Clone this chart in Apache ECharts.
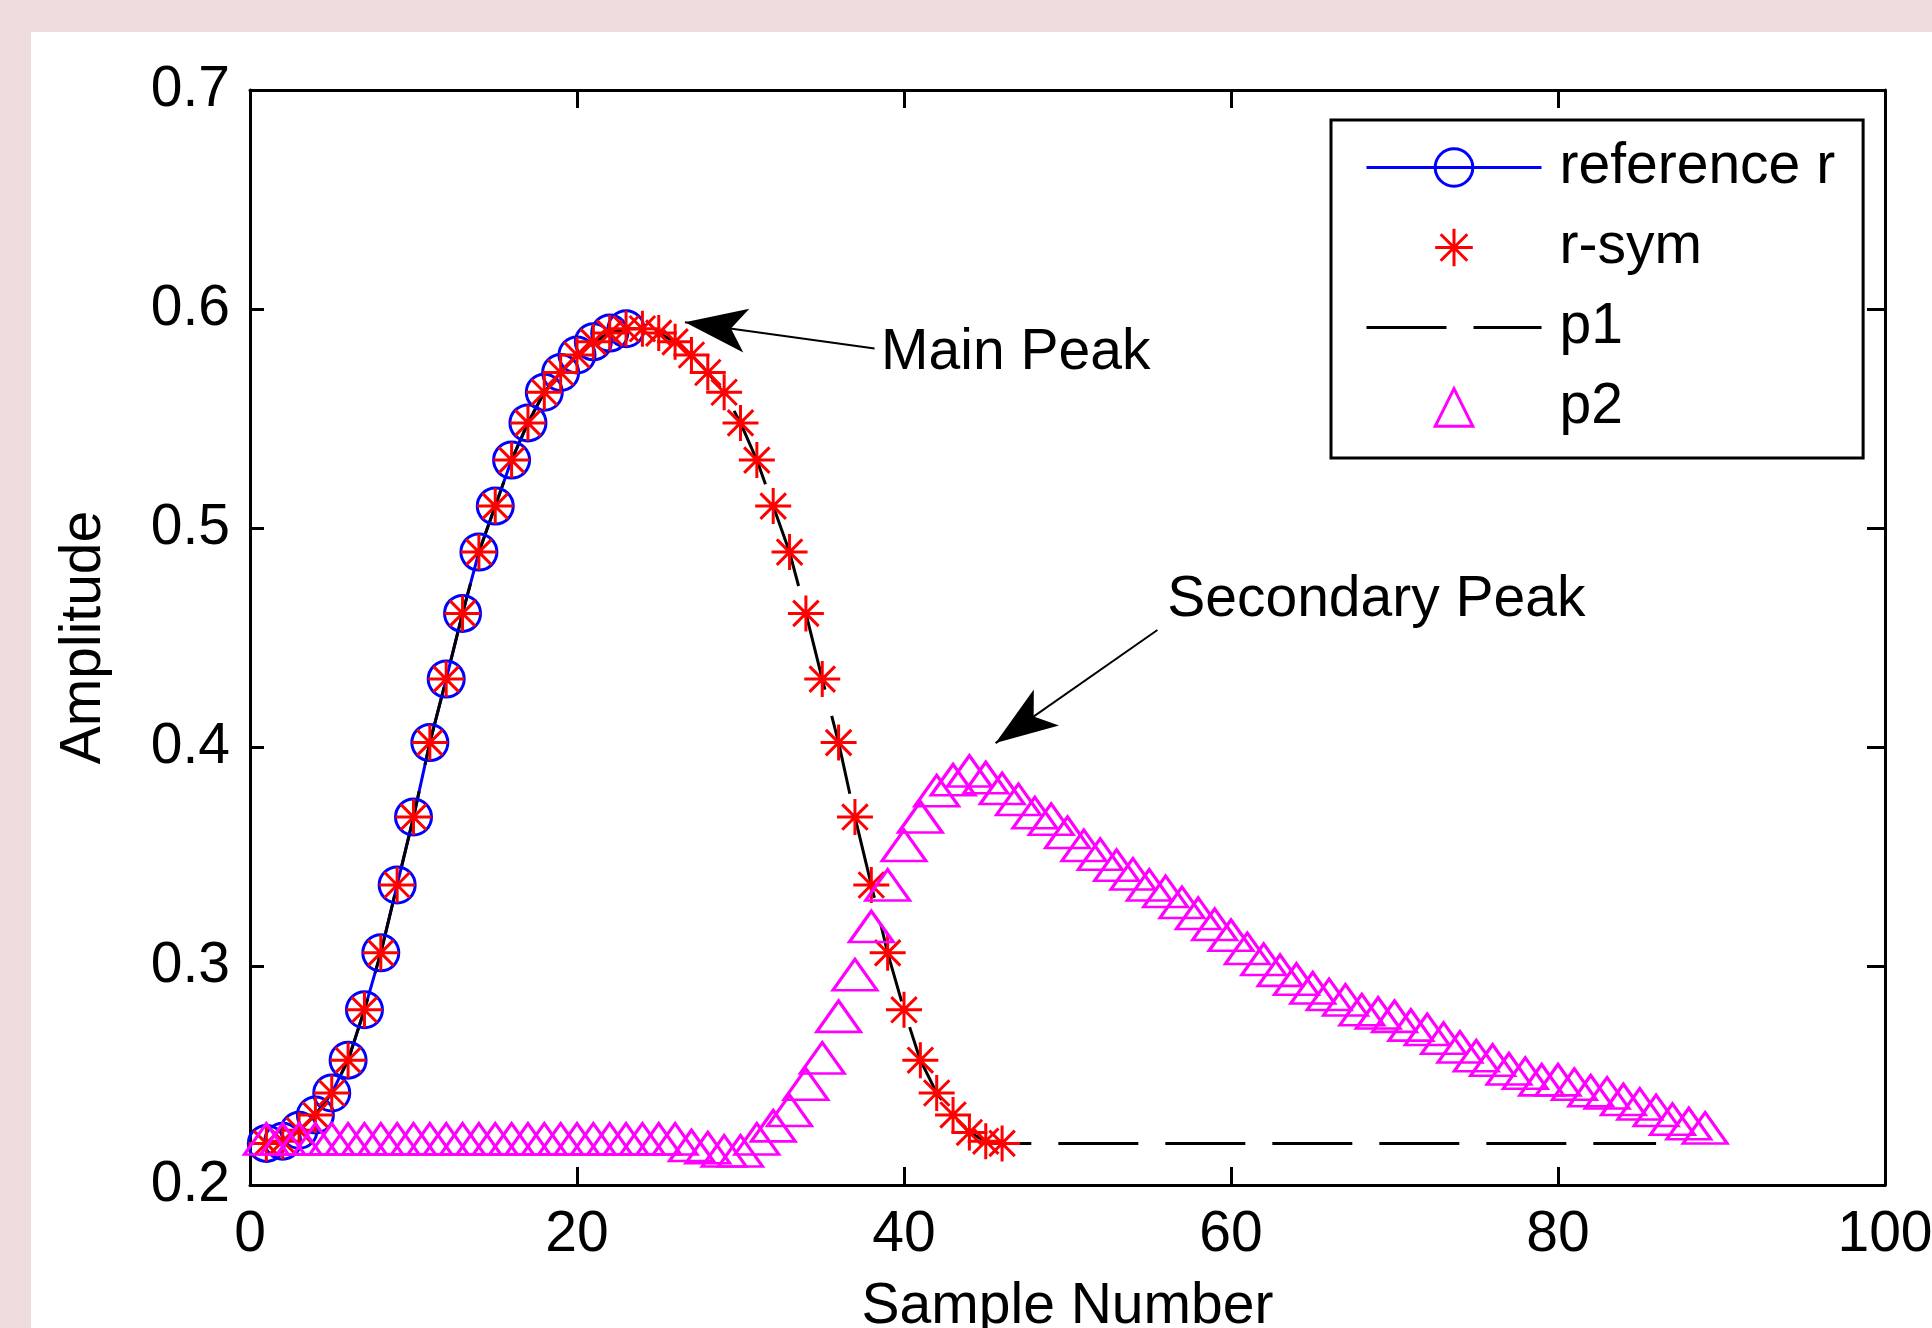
<!DOCTYPE html>
<html>
<head>
<meta charset="utf-8">
<script src="https://cdn.jsdelivr.net/npm/echarts@6/dist/echarts.min.js"></script>
<style>
  html, body { margin: 0; padding: 0; background: #efdcdc; }
  #chart { position: absolute; left: 31px; top: 32px; width: 1901px; height: 1296px; background: #ffffff; }
</style>
</head>
<body>
<div id="chart"></div>
<script>
// Sample-by-sample amplitudes (sample number = position in the list, starting at 1)
const refR = [0.219, 0.220, 0.225, 0.232, 0.242, 0.257, 0.280, 0.306, 0.337, 0.368,
              0.402, 0.431, 0.461, 0.489, 0.510, 0.531, 0.548, 0.562, 0.571, 0.579,
              0.585, 0.589, 0.591];

const rSym = [0.219, 0.220, 0.225, 0.232, 0.242, 0.257, 0.280, 0.306, 0.337, 0.368,
              0.402, 0.431, 0.461, 0.489, 0.510, 0.531, 0.548, 0.562, 0.571, 0.579,
              0.585, 0.589, 0.591, 0.591, 0.589, 0.585, 0.579, 0.571, 0.562, 0.548,
              0.531, 0.510, 0.489, 0.461, 0.431, 0.402, 0.368, 0.337, 0.306, 0.280,
              0.257, 0.242, 0.232, 0.224, 0.220, 0.219];

const p1 = [0.219, 0.220, 0.225, 0.232, 0.242, 0.257, 0.280, 0.306, 0.337, 0.368,
            0.402, 0.431, 0.461, 0.489, 0.510, 0.531, 0.548, 0.562, 0.571, 0.579,
            0.585, 0.589, 0.591, 0.591, 0.589, 0.585, 0.579, 0.571, 0.562, 0.548,
            0.531, 0.510, 0.489, 0.461, 0.431, 0.402, 0.368, 0.337, 0.306, 0.280,
            0.257, 0.242, 0.232, 0.224, 0.220, 0.219, 0.219, 0.219, 0.219, 0.219,
            0.219, 0.219, 0.219, 0.219, 0.219, 0.219, 0.219, 0.219, 0.219, 0.219,
            0.219, 0.219, 0.219, 0.219, 0.219, 0.219, 0.219, 0.219, 0.219, 0.219,
            0.219, 0.219, 0.219, 0.219, 0.219, 0.219, 0.219, 0.219, 0.219, 0.219,
            0.219, 0.219, 0.219, 0.219, 0.219, 0.219];

const p2 = [0.221, 0.221, 0.221, 0.221, 0.221, 0.221, 0.221, 0.221, 0.221, 0.221,
            0.221, 0.221, 0.221, 0.221, 0.221, 0.221, 0.221, 0.221, 0.221, 0.221,
            0.221, 0.221, 0.221, 0.221, 0.221, 0.221, 0.218, 0.217, 0.2155, 0.2155,
            0.221, 0.227, 0.234, 0.246, 0.258, 0.277, 0.296, 0.318, 0.337, 0.355,
            0.368, 0.380, 0.385, 0.389, 0.386, 0.381, 0.376, 0.370, 0.367, 0.361,
            0.355, 0.351, 0.346, 0.342, 0.337, 0.334, 0.329, 0.324, 0.319, 0.314,
            0.308, 0.303, 0.298, 0.294, 0.290, 0.287, 0.2845, 0.280, 0.2785, 0.277,
            0.273, 0.271, 0.267, 0.263, 0.259, 0.257, 0.253, 0.251, 0.248, 0.248,
            0.246, 0.243, 0.242, 0.239, 0.237, 0.234, 0.230, 0.228, 0.226];

// Axis ticks
const xTicks = [0, 20, 40, 60, 80, 100];
const yTicks = [0.2, 0.3, 0.4, 0.5, 0.6, 0.7];

// Callouts: [sample, amplitude] for arrow tails, tips and text anchors
const mainPeakNote = { text: 'Main Peak', at: [38.6, 0.580], from: [38.2, 0.582], to: [26.6, 0.594] };
const secPeakNote = { text: 'Secondary Peak', at: [56.1, 0.467], from: [55.5, 0.4534], to: [45.6, 0.4018] };

const FONT = "'Liberation Sans', Arial, Helvetica, sans-serif";
const FS = 57;
const pairs = vals => vals.map((v, i) => [i + 1, v]);
const ASTERISK = 'path://M10,0L10,20M0,10L20,10M2.93,2.93L17.07,17.07M2.93,17.07L17.07,2.93';

const chart = echarts.init(document.getElementById('chart'), null, { renderer: 'canvas' });

const axisLineStyle = { color: '#000', width: 3 };
const tickStyle = { color: '#000', width: 3 };

const noteLabel = {
  show: true, position: 'right', distance: 0,
  color: '#000', fontSize: FS, fontFamily: FONT,
  formatter: p => p.name
};

// Arrow from a callout's tail to its tip
const arrowLine = note => [
  { coord: note.from, symbol: 'none' },
  { coord: note.to, symbol: 'arrow', symbolSize: [33, 62] }
];

chart.setOption({
  animation: false,
  backgroundColor: '#ffffff',
  grid: { left: 219, top: 58, right: 47, bottom: 143, containLabel: false, outerBoundsMode: 'none' },
  xAxis: [{
    type: 'value', min: xTicks[0], max: xTicks[xTicks.length - 1], interval: 20,
    position: 'bottom',
    name: 'Sample Number', nameLocation: 'middle', nameGap: 94, nameMoveOverlap: false,
    nameTextStyle: { color: '#000', fontSize: FS, fontFamily: FONT },
    axisLine: { show: true, onZero: false, lineStyle: axisLineStyle },
    axisTick: { show: true, inside: true, length: 18, lineStyle: tickStyle },
    axisLabel: { show: true, margin: 22, color: '#000', fontSize: FS, fontFamily: FONT },
    splitLine: { show: false }
  }, {
    type: 'value', min: xTicks[0], max: xTicks[xTicks.length - 1], interval: 20,
    position: 'top',
    axisLine: { show: true, onZero: false, lineStyle: axisLineStyle },
    axisTick: { show: true, inside: true, length: 18, lineStyle: tickStyle },
    axisLabel: { show: false },
    splitLine: { show: false }
  }],
  yAxis: [{
    type: 'value', min: yTicks[0], max: yTicks[yTicks.length - 1], interval: 0.1,
    position: 'left',
    name: 'Amplitude', nameLocation: 'middle', nameGap: 137, nameMoveOverlap: false,
    nameTextStyle: { color: '#000', fontSize: FS, fontFamily: FONT },
    axisLine: { show: true, onZero: false, lineStyle: axisLineStyle },
    axisTick: { show: true, inside: true, length: 14, lineStyle: tickStyle },
    axisLabel: { show: true, margin: 20, color: '#000', fontSize: FS, fontFamily: FONT,
                 formatter: v => v.toFixed(1) },
    splitLine: { show: false }
  }, {
    type: 'value', min: yTicks[0], max: yTicks[yTicks.length - 1], interval: 0.1,
    position: 'right',
    axisLine: { show: true, onZero: false, lineStyle: axisLineStyle },
    axisTick: { show: true, inside: true, length: 18, lineStyle: tickStyle },
    axisLabel: { show: false },
    splitLine: { show: false }
  }],
  legend: {
    orient: 'vertical', left: 1300, top: 88,
    padding: [19, 28, 22, 34],
    itemGap: 23, itemWidth: 175, itemHeight: 47,
    borderColor: '#000', borderWidth: 3, borderRadius: 0, backgroundColor: '#fff',
    selectedMode: false,
    textStyle: { color: '#000', fontSize: FS, fontFamily: FONT, lineHeight: FS, padding: [0, 0, 0, 13] },
    lineStyle: { width: 3 },
    itemStyle: { borderWidth: 3 },
    data: [
      { name: 'reference r' },
      { name: 'r-sym', lineStyle: { width: 0 } },
      { name: 'p1', itemStyle: { opacity: 0 } },
      { name: 'p2', lineStyle: { width: 0 } }
    ]
  },
  series: [{
    name: 'reference r', type: 'line', data: pairs(refR),
    xAxisIndex: 0, yAxisIndex: 0,
    showAllSymbol: true, symbol: 'circle', symbolSize: 36,
    lineStyle: { color: '#0000ff', width: 3 },
    itemStyle: { color: 'transparent', borderColor: '#0000ff', borderWidth: 3 },
    emphasis: { disabled: true }
  }, {
    name: 'r-sym', type: 'line', data: pairs(rSym),
    showAllSymbol: true, symbol: ASTERISK, symbolSize: 36,
    lineStyle: { color: '#ff0000', width: 0 },
    itemStyle: { color: 'transparent', borderColor: '#ff0000', borderWidth: 3 },
    emphasis: { disabled: true }
  }, {
    name: 'p1', type: 'line', data: pairs(p1),
    symbol: 'none',
    lineStyle: { color: '#000000', width: 3, type: [80, 27] },
    itemStyle: { color: '#000000' },
    emphasis: { disabled: true },
    markLine: {
      silent: true, animation: false,
      symbol: ['none', 'arrow'],
      symbolSize: 62,
      lineStyle: { color: '#000', width: 2, type: 'solid' },
      itemStyle: { color: '#000' },
      label: { show: false },
      emphasis: { disabled: true },
      data: [arrowLine(mainPeakNote), arrowLine(secPeakNote)]
    },
    markPoint: {
      silent: true, animation: false,
      symbol: 'circle', symbolSize: 0,
      itemStyle: { color: 'transparent' },
      label: noteLabel,
      emphasis: { disabled: true },
      data: [
        { name: mainPeakNote.text, coord: mainPeakNote.at },
        { name: secPeakNote.text, coord: secPeakNote.at }
      ]
    }
  }, {
    name: 'p2', type: 'line', data: pairs(p2),
    showAllSymbol: true, symbol: 'triangle', symbolSize: [44, 31],
    lineStyle: { color: '#ff00ff', width: 0 },
    itemStyle: { color: 'transparent', borderColor: '#ff00ff', borderWidth: 3 },
    emphasis: { disabled: true }
  }]
});
</script>
</body>
</html>
